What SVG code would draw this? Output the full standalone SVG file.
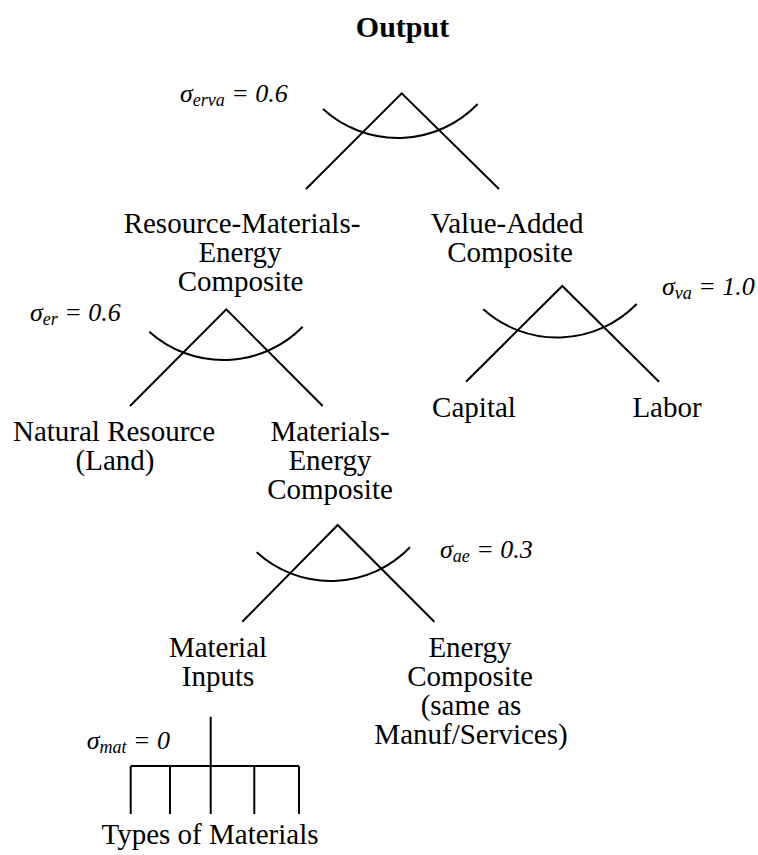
<svg xmlns="http://www.w3.org/2000/svg" width="758" height="855" viewBox="0 0 758 855">
<style>
.t{font-family:'Liberation Serif','DejaVu Serif',serif;font-size:29px;text-anchor:middle;fill:#000}
.h{font-family:'Liberation Serif','DejaVu Serif',serif;font-size:30px;font-weight:bold;text-anchor:middle;fill:#000}
.s{font-family:'Liberation Serif','DejaVu Serif',serif;font-size:26px;font-style:italic;fill:#000}
.sub{font-size:18px}
.c{fill:none;stroke:#000;stroke-width:2}
</style>
<rect width="758" height="855" fill="#fff"/>
<g id="connectors">
<path class="c" d="M306,189 L401.7,93.3 L499,189"/>
<path class="c" d="M323,109 A111,111 0 0 0 477.7,104"/>
<path class="c" d="M130,406 L226.3,309.3 L322.7,406"/>
<path class="c" d="M149.3,331.7 A111,111 0 0 0 302.7,326.7"/>
<path class="c" d="M466,381.7 L562.3,286 L659,381.7"/>
<path class="c" d="M483.3,309.3 A111,111 0 0 0 636.7,304"/>
<path class="c" d="M242.3,621.7 L337.7,525 L434.3,621.7"/>
<path class="c" d="M256.7,552.3 A110,110 0 0 0 410,547.3"/>
<path class="c" d="M210.7,716.7 V766 M130.7,766 H299 M130.7,766 V814 M170,766 V814 M210.7,766 V814 M254.3,766 V814 M299,766 V814"/>
</g>
<g id="output"><text class="h" x="402.5" y="37">Output</text></g>
<g id="sigma-erva"><text class="s" x="180" y="102">σ<tspan class="sub" dy="4">erva</tspan><tspan dy="-4"> = 0.6</tspan></text></g>
<g id="rme"><text class="t" x="242" y="233">Resource-Materials-</text><text class="t" x="240" y="262">Energy</text><text class="t" x="240.5" y="291">Composite</text></g>
<g id="va"><text class="t" x="507" y="233">Value-Added</text><text class="t" x="510" y="262">Composite</text></g>
<g id="sigma-er"><text class="s" x="30" y="321">σ<tspan class="sub" dy="4">er</tspan><tspan dy="-4"> = 0.6</tspan></text></g>
<g id="sigma-va"><text class="s" x="662" y="295">σ<tspan class="sub" dy="4">va</tspan><tspan dy="-4"> = 1.0</tspan></text></g>
<g id="capital"><text class="t" x="474" y="417">Capital</text></g>
<g id="labor"><text class="t" x="667" y="417">Labor</text></g>
<g id="natres"><text class="t" x="114" y="441">Natural Resource</text><text class="t" x="115" y="470">(Land)</text></g>
<g id="me"><text class="t" x="330" y="441">Materials-</text><text class="t" x="330" y="470">Energy</text><text class="t" x="330" y="499">Composite</text></g>
<g id="sigma-ae"><text class="s" x="440" y="558">σ<tspan class="sub" dy="4">ae</tspan><tspan dy="-4"> = 0.3</tspan></text></g>
<g id="mat"><text class="t" x="218" y="657">Material</text><text class="t" x="218" y="686">Inputs</text></g>
<g id="energy"><text class="t" x="470" y="657">Energy</text><text class="t" x="470" y="686">Composite</text><text class="t" x="471" y="715">(same as</text><text class="t" x="471" y="744">Manuf/Services)</text></g>
<g id="sigma-mat"><text class="s" x="170" y="749" text-anchor="end">σ<tspan class="sub" dy="4">mat</tspan><tspan dy="-4"> = 0</tspan></text></g>
<g id="types"><text class="t" x="210" y="844">Types of Materials</text></g>
</svg>
